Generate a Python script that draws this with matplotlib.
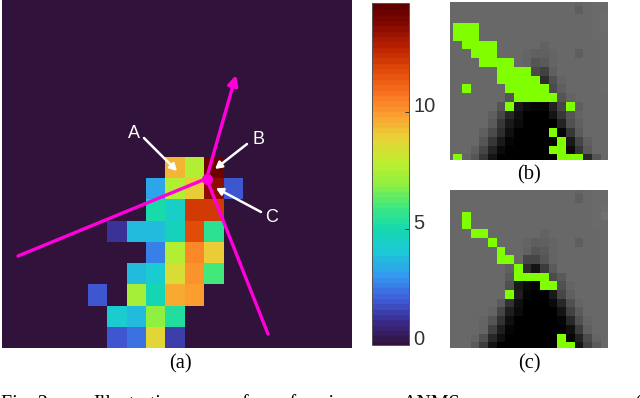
import matplotlib
matplotlib.use('Agg')
import matplotlib.pyplot as plt
from matplotlib.colors import LinearSegmentedColormap
import numpy as np

W, H = 640, 398

# heat map, 9 rows x 8 cols (rest of the panel is zero)
heat = [
    [0, 0, 0, 0, 9.6, 7.6, 14.4, 0],
    [0, 0, 0, 3.3, 7.6, 9.1, 13.6, 2.0],
    [0, 0, 0, 5.2, 4.4, 12.3, 12.3, 0],
    [0, 1.3, 3.7, 3.8, 4.7, 11.8, 5.7, 0],
    [0, 0, 0, 2.6, 7.6, 10.5, 9.0, 0],
    [0, 0, 3.7, 4.2, 8.6, 10.3, 6.0, 0],
    [2.0, 0, 7.4, 5.0, 9.8, 9.9, 0, 0],
    [0, 4.3, 3.8, 7.1, 5.5, 0, 0, 0],
    [0, 2.0, 2.3, 8.8, 1.4, 0, 0, 0],
]
vmax = 14.7
cbar_ticks = [0, 5, 10]
cbar_colors = ['#30123b', '#3a2a8a', '#3f5fdc', '#3399f0', '#1cc8d8', '#14d8b0', '#3ee880', '#90f040',
               '#c0ee30', '#e8d238', '#fca030', '#f87020', '#e04808', '#b82000', '#800800', '#600000']
cbar_stops = [0, 1, 2, 3, 4, 5, 6, 7, 8, 9, 10, 11, 12, 13, 14, 14.7]

# gray patches (0-255), 19 x 19
gray_b = [
    [104, 104, 104, 104, 104, 104, 104, 104, 104, 104, 104, 104, 104, 104, 104, 100, 104, 106, 106],
    [104, 104, 104, 104, 104, 104, 104, 104, 104, 104, 104, 104, 104, 104, 104, 94, 104, 106, 106],
    [104, 104, 104, 104, 104, 104, 104, 104, 104, 104, 104, 104, 104, 104, 104, 104, 104, 106, 108],
    [104, 104, 104, 104, 104, 104, 104, 104, 104, 104, 104, 104, 104, 104, 104, 104, 104, 106, 108],
    [104, 104, 104, 104, 104, 104, 104, 104, 104, 104, 104, 104, 104, 104, 104, 104, 104, 106, 106],
    [104, 104, 104, 104, 104, 104, 104, 104, 104, 104, 104, 98, 104, 104, 104, 104, 104, 104, 106],
    [104, 104, 104, 104, 104, 104, 104, 104, 104, 100, 96, 96, 100, 104, 104, 94, 104, 104, 106],
    [104, 104, 104, 104, 104, 104, 104, 104, 104, 100, 85, 90, 100, 104, 104, 104, 104, 104, 106],
    [104, 104, 104, 104, 104, 104, 104, 104, 104, 104, 75, 65, 95, 104, 104, 104, 104, 104, 106],
    [104, 104, 104, 104, 104, 104, 104, 104, 104, 104, 104, 45, 80, 100, 104, 104, 104, 104, 106],
    [104, 104, 104, 104, 104, 104, 104, 104, 104, 104, 104, 104, 75, 95, 104, 104, 104, 104, 106],
    [104, 104, 104, 104, 104, 104, 104, 85, 104, 104, 104, 104, 104, 85, 100, 104, 104, 104, 104],
    [104, 104, 104, 104, 104, 104, 85, 70, 25, 10, 5, 5, 35, 70, 104, 95, 104, 104, 104],
    [104, 104, 104, 104, 104, 95, 70, 40, 15, 0, 0, 0, 20, 55, 85, 100, 104, 104, 104],
    [104, 104, 104, 104, 104, 90, 55, 25, 10, 0, 0, 0, 0, 35, 80, 95, 104, 104, 104],
    [104, 104, 104, 104, 95, 75, 45, 15, 0, 0, 0, 0, 0, 5, 55, 90, 104, 104, 104],
    [104, 104, 104, 104, 85, 55, 25, 5, 0, 0, 0, 0, 0, 0, 25, 70, 95, 104, 104],
    [104, 104, 104, 95, 70, 35, 10, 0, 0, 0, 0, 0, 0, 0, 10, 55, 90, 104, 104],
    [104, 104, 100, 85, 55, 20, 0, 0, 0, 0, 0, 0, 0, 0, 0, 0, 40, 85, 104],
]
gray_c = [
    [104, 104, 104, 104, 104, 104, 104, 104, 104, 104, 104, 104, 104, 104, 104, 100, 104, 106, 106],
    [104, 104, 104, 104, 104, 104, 104, 104, 104, 104, 104, 104, 104, 104, 104, 94, 104, 106, 106],
    [104, 104, 104, 104, 104, 104, 104, 104, 104, 104, 104, 104, 104, 104, 104, 104, 104, 106, 108],
    [104, 104, 104, 104, 104, 104, 104, 104, 104, 104, 104, 104, 104, 104, 104, 104, 104, 106, 112],
    [104, 104, 104, 104, 104, 104, 104, 104, 104, 104, 104, 104, 104, 104, 104, 104, 104, 106, 106],
    [104, 104, 104, 104, 104, 104, 104, 104, 104, 104, 104, 98, 104, 104, 104, 104, 104, 104, 106],
    [104, 104, 104, 104, 104, 104, 104, 104, 104, 100, 94, 96, 100, 104, 104, 94, 104, 104, 106],
    [104, 104, 104, 104, 104, 104, 104, 104, 104, 98, 85, 90, 100, 104, 104, 104, 104, 104, 106],
    [104, 104, 104, 104, 104, 104, 104, 104, 104, 70, 70, 85, 100, 104, 104, 104, 104, 104, 106],
    [104, 104, 104, 104, 104, 104, 104, 96, 104, 45, 20, 60, 90, 104, 104, 104, 104, 104, 106],
    [104, 104, 104, 104, 104, 104, 104, 90, 104, 104, 104, 104, 75, 90, 104, 104, 104, 104, 106],
    [104, 104, 104, 104, 104, 104, 104, 80, 25, 10, 5, 104, 104, 80, 100, 104, 104, 104, 104],
    [104, 104, 104, 104, 104, 104, 104, 104, 30, 5, 0, 0, 25, 70, 95, 104, 104, 104, 104],
    [104, 104, 104, 104, 104, 104, 90, 50, 15, 0, 0, 0, 10, 40, 80, 100, 104, 104, 104],
    [104, 104, 104, 104, 104, 100, 70, 30, 10, 0, 0, 0, 0, 20, 65, 90, 104, 104, 104],
    [104, 104, 104, 104, 100, 85, 50, 15, 0, 0, 0, 0, 0, 5, 40, 80, 100, 104, 104],
    [104, 104, 104, 104, 100, 65, 30, 5, 0, 0, 0, 0, 0, 0, 15, 60, 95, 104, 104],
    [104, 104, 104, 100, 80, 40, 15, 0, 0, 0, 0, 0, 0, 5, 5, 35, 75, 100, 104],
    [104, 104, 104, 90, 60, 20, 0, 0, 0, 0, 0, 0, 0, 0, 0, 20, 65, 90, 104],
]

# green cells as (row, first col, last col)
green_b = [
    (3, 1, 3), (4, 1, 3), (5, 2, 5), (6, 3, 5), (7, 4, 7), (8, 6, 9), (9, 6, 10),
    (10, 7, 11), (11, 8, 12), (10, 2, 2), (12, 7, 7), (12, 14, 14), (15, 12, 12),
    (16, 13, 13), (17, 12, 13), (18, 13, 15), (18, 1, 1),
]
green_c = [
    (3, 2, 2), (4, 2, 2), (5, 3, 4), (6, 5, 5), (7, 6, 6), (8, 6, 7), (9, 8, 8),
    (10, 8, 11), (11, 11, 12), (12, 7, 7), (17, 13, 13), (18, 13, 14),
]

# overlay items, in image pixels
ray_ends = [(18, 256), (268, 334)]
ray_center = (206.5, 178.5)
ray_tip = (236, 75)
pointers = [((144, 138), (177, 171)), ((247, 144), (215, 169)), ((261, 212), (216, 188))]
pointer_labels = [('A', 134, 134), ('B', 258, 139), ('C', 272, 218)]
captions = [('(a)', 180, 364), ('(b)', 529, 175), ('(c)', 529, 364)]
# only the top of this line is inside the crop
footer_words = [('Fig. 2:', 1), ('Illustration', 93), ('of', 232), ('performing', 265), ('ANMS', 403), ('(', 634)]

MAGENTA = '#ff00dc'
GREEN = np.array([128, 255, 0])


def add_axes_px(left, top, right, bottom):
    return fig.add_axes([left / W, 1 - bottom / H, (right - left) / W, (bottom - top) / H])


def patch_rgb(gray, green):
    g = np.array(gray, dtype=np.uint8)
    rgb = np.dstack([g, g, g])
    for row, c1, c2 in green:
        rgb[row, c1:c2 + 1] = GREEN
    return rgb


fig = plt.figure(figsize=(W / 100, H / 100), dpi=100)
cmap = LinearSegmentedColormap.from_list('bar', [(s / vmax, c) for s, c in zip(cbar_stops, cbar_colors)], N=64)

# (a) heat map
ax = add_axes_px(2, 0, 352, 348)
ax.add_patch(plt.Rectangle((0, 0), 1, 1, transform=ax.transAxes, color=cmap(0), zorder=-1))
im = ax.imshow(heat, cmap=cmap, vmin=0, vmax=vmax, interpolation='nearest', aspect='auto')
ax.set_xlim(-4.95, 13.16)
ax.set_ylim(8.5, -7.92)
ax.axis('off')

# colorbar
cax = add_axes_px(372, 3, 409, 345)
cb = fig.colorbar(im, cax=cax, ticks=cbar_ticks)
cb.solids.set_edgecolor('face')
cb.outline.set_edgecolor('#555555')
cb.outline.set_linewidth(0.7)
cax.tick_params(direction='in', length=3, width=0.7, color='#333333', pad=3,
                labelsize=14.5, labelcolor='#333333')
for t in cax.get_yticklabels():
    t.set_family('Liberation Sans')
    t.set_verticalalignment('baseline')

# (b), (c) patches
for box, gray, green, top_lim, bot_lim in [
    ((450, 2, 608, 160), gray_b, green_b, 0.5 - 14 / 26, 17.5 + 17 / 26),
    ((450, 190, 608, 348), gray_c, green_c, 0.5 - 16 / 26, 17.5 + 17 / 26),
]:
    pax = add_axes_px(*box)
    pax.imshow(patch_rgb(gray, green), interpolation='nearest', aspect='auto')
    pax.set_xlim(0.5 - 10 / 26, 18.5 - 4 / 26)
    pax.set_ylim(bot_lim, top_lim)
    pax.axis('off')

# overlay in pixel coordinates
ov = fig.add_axes([0, 0, 1, 1])
ov.set_xlim(0, W)
ov.set_ylim(H, 0)
ov.axis('off')

for end in ray_ends:
    ov.plot([ray_center[0], end[0]], [ray_center[1], end[1]], color=MAGENTA, lw=2.4, solid_capstyle='round')
ov.annotate('', xy=ray_tip, xytext=ray_center,
            arrowprops=dict(arrowstyle='-|>,head_length=0.6,head_width=0.3', color=MAGENTA, lw=2.4,
                            shrinkA=0, shrinkB=0))
ov.plot(*ray_center, 'o', color=MAGENTA, ms=8, mew=0)

for start, end in pointers:
    ov.annotate('', xy=end, xytext=start,
                arrowprops=dict(arrowstyle='-|>,head_length=0.4,head_width=0.22', color='white', lw=1.8,
                                shrinkA=0, shrinkB=0))
for label, x, y in pointer_labels:
    ov.text(x, y, label, color='white', fontsize=13, family='Liberation Sans', ha='center', va='center')
for label, x, y in captions:
    ov.text(x, y, label, color='black', fontsize=14.8, family='Liberation Serif', ha='center', va='center')
for word, x in footer_words:
    ov.text(x, 409, word, color='black', fontsize=14.4, family='Liberation Serif', ha='left', va='baseline',
            clip_on=False)

fig.savefig('out.png', dpi=100)
